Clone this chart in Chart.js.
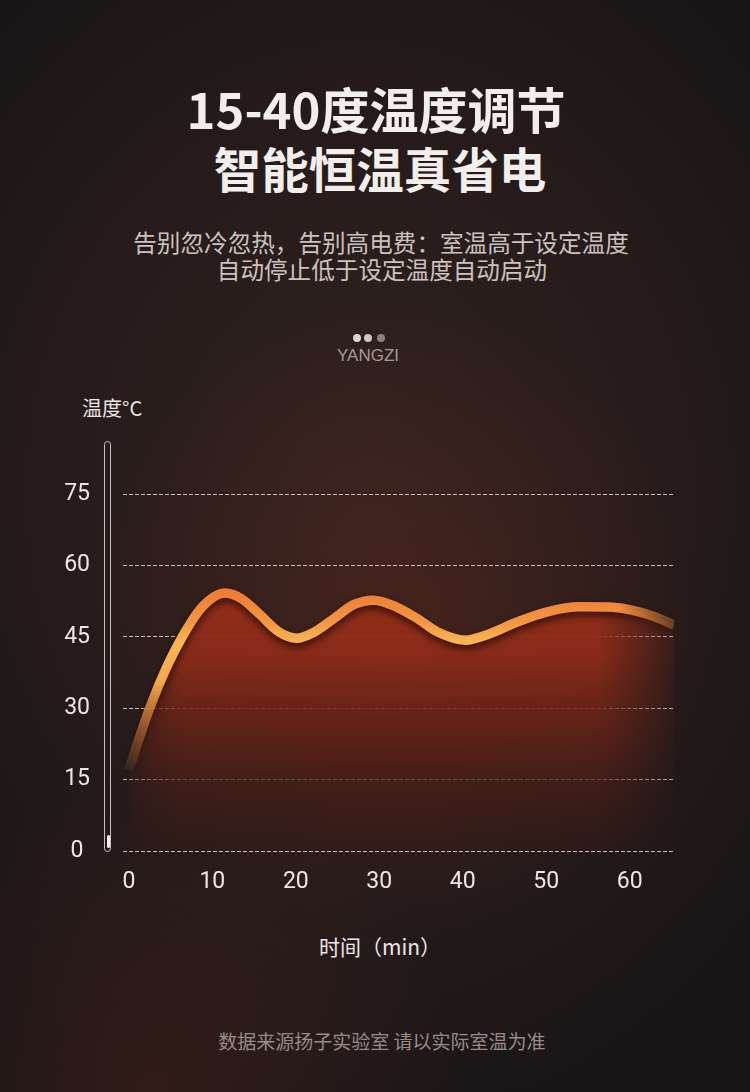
<!DOCTYPE html>
<html>
<head>
<meta charset="utf-8">
<script src="https://cdn.jsdelivr.net/npm/chart.js@4/dist/chart.umd.min.js"></script>
<style>
  html, body { margin: 0; padding: 0; }
  body {
    width: 750px; height: 1092px; position: relative; overflow: hidden;
    font-family: "Noto Sans CJK SC", "Noto Sans", sans-serif;
    background:
      radial-gradient(circle at 53% 57%, rgba(125,42,26,0.3) 0, rgba(125,42,26,0) 42%),
      radial-gradient(circle at 20% 100%, rgba(90,40,28,0.35) 0, rgba(90,40,28,0) 25%),
      radial-gradient(ellipse 75% 62% at 48% 45%, #302220 0%, #271c1b 50%, #181516 100%);
  }
  .t { position: absolute; left: 0; width: 750px; text-align: center; white-space: nowrap; }
  .title { font-weight: 700; color: #f2eeec; line-height: 60px; }
  .sub { font-size: 23.6px; color: #cbc3bf; line-height: 28px; }
  .dot { position: absolute; width: 8px; height: 8px; border-radius: 50%; top: 334px; }
  #wrap { position: absolute; left: 0; top: 440px; width: 700px; height: 470px; }
  .thermo { position: absolute; left: 104px; top: 441px; width: 5px; height: 409px;
    border: 1.5px solid #c9c1bd; border-radius: 4px; }
  .mercury { position: absolute; left: 106.5px; top: 835px; width: 3.5px; height: 13px;
    background: #f2eeec; border-radius: 2px; }
</style>
</head>
<body>
<div class="t title" style="top:78px;font-size:49px;left:1px">15-40度温度调节</div>
<div class="t title" style="top:138px;left:5px;font-size:47.5px">智能恒温真省电</div>
<div class="t sub" style="top:228px;left:6px">告别忽冷忽热，告别高电费：室温高于设定温度</div>
<div class="t sub" style="top:255px;left:7px">自动停止低于设定温度自动启动</div>
<div class="dot" style="left:353px;background:#dcd4d0"></div>
<div class="dot" style="left:364px;background:#cfc7c3"></div>
<div class="dot" style="left:377px;background:#8c8380"></div>
<div class="t" style="top:345px;left:-7px;font-family:'Liberation Sans',Arial,sans-serif;font-size:17px;color:#a39a97;line-height:22px">YANGZI</div>
<div style="position:absolute;left:82px;top:395px;font-size:20px;color:#ece6e4;line-height:26px">温度°C</div>
<div class="thermo"></div>
<div class="mercury"></div>
<div id="wrap"><canvas id="myChart"></canvas></div>
<div class="t" style="top:932px;left:5px;font-size:21px;color:#ece6e4;line-height:28px">时间（min）</div>
<div class="t" style="top:1028px;left:7px;font-size:19px;color:#978c89;line-height:26px">数据来源扬子实验室 请以实际室温为准</div>

<script>
// time in minutes, temperature in °C
var timeMin = [0, 1.3, 2.6, 4.5, 6.4, 8.8, 11.5, 13.5, 15.5, 18, 20.1, 22, 24.3, 27, 29.3, 32, 34.5, 37, 40.3, 43, 46.5, 50, 54, 58, 61, 63, 65.3];
var tempC = [17, 24, 30.5, 38.5, 45, 51.3, 54.2, 53, 50, 46, 44.7, 45.8, 48.5, 51.8, 52.7, 51.3, 48.9, 46, 44.3, 45.5, 48.1, 50.2, 51.3, 51.2, 50.3, 49.2, 47.5];
var xTicks = [0, 10, 20, 30, 40, 50, 60];
var yTicks = [0, 15, 30, 45, 60, 75];

document.addEventListener('DOMContentLoaded', function () {
    var ctx = document.getElementById('myChart').getContext('2d');

    // paint a vertical gradient, then fade it out horizontally, and use it as a pattern
    function makePattern(chart, vStops, hStops) {
        var area = chart.chartArea;
        var c = document.createElement('canvas');
        c.width = chart.width;
        c.height = chart.height;
        var g = c.getContext('2d');
        var y = chart.scales.y;
        var vg = g.createLinearGradient(0, y.getPixelForValue(vStops.from), 0, y.getPixelForValue(vStops.to));
        vStops.stops.forEach(function (s) { vg.addColorStop(s[0], s[1]); });
        g.fillStyle = vg;
        g.fillRect(0, 0, c.width, c.height);
        var hg = g.createLinearGradient(area.left, 0, area.right, 0);
        hStops.forEach(function (s) { hg.addColorStop(s[0], 'rgba(0,0,0,' + s[1] + ')'); });
        g.globalCompositeOperation = 'destination-in';
        g.fillStyle = hg;
        g.fillRect(0, 0, c.width, c.height);
        return chart.ctx.createPattern(c, 'no-repeat');
    }

    var lineShadow = {
        id: 'lineShadow',
        beforeDatasetDraw: function (chart) {
            var c = chart.ctx;
            c.save();
            c.shadowColor = 'rgba(25,6,0,0.75)';
            c.shadowBlur = 8;
            c.shadowOffsetY = 4;
        },
        afterDatasetDraw: function (chart) {
            chart.ctx.restore();
        }
    };

    var myChart = new Chart(ctx, {
        type: 'line',
        data: {
            datasets: [{
                data: timeMin.map(function (t, i) { return { x: t, y: tempC[i] }; }),
                borderWidth: 9.5,
                pointRadius: 0,
                cubicInterpolationMode: 'monotone',
                borderCapStyle: 'butt',
                fill: 'origin',
                borderColor: function (c) {
                    if (!c.chart.chartArea) return '#f5a548';
                    return makePattern(c.chart, {
                        from: 56, to: 15,
                        stops: [
                            [0, 'rgba(236,118,50,1)'],
                            [0.2, 'rgba(243,152,66,1)'],
                            [0.3, 'rgba(250,182,86,1)'],
                            [0.5, 'rgba(246,166,76,1)'],
                            [0.8, 'rgba(232,136,62,0.4)'],
                            [1, 'rgba(220,120,60,0)']
                        ]
                    }, [[0, 1], [0.9, 1], [1, 0.3]]);
                },
                backgroundColor: function (c) {
                    if (!c.chart.chartArea) return 'rgba(140,45,24,0.8)';
                    return makePattern(c.chart, {
                        from: 55, to: 0,
                        stops: [
                            [0, 'rgba(152,47,25,0.97)'],
                            [0.25, 'rgba(140,44,24,0.95)'],
                            [0.5, 'rgba(106,36,23,0.86)'],
                            [0.75, 'rgba(72,30,24,0.72)'],
                            [1, 'rgba(52,27,24,0.45)']
                        ]
                    }, [[0, 0.2], [0.05, 0.7], [0.11, 1], [0.86, 1], [1, 0.15]]);
                }
            }]
        },
        options: {
            responsive: true,
            maintainAspectRatio: false,
            animation: false,
            layout: { padding: { top: 54, right: 26, left: 0, bottom: 0 } },
            plugins: { legend: { display: false }, tooltip: { enabled: false } },
            scales: {
                x: {
                    type: 'linear',
                    min: -0.7,
                    max: 65.3,
                    afterBuildTicks: function (axis) {
                        axis.ticks = xTicks.map(function (v) { return { value: v }; });
                    },
                    afterFit: function (axis) { axis.height = 59; },
                    grid: { display: false },
                    border: { display: false },
                    ticks: {
                        color: '#ece6e4',
                        padding: 9,
                        maxRotation: 0,
                        autoSkip: false,
                        font: { family: 'Roboto, "Noto Sans", sans-serif', size: 23 }
                    }
                },
                y: {
                    min: 0,
                    max: 75,
                    afterBuildTicks: function (axis) {
                        axis.ticks = yTicks.map(function (v) { return { value: v }; });
                    },
                    afterFit: function (axis) { axis.width = 123; },
                    grid: { color: 'rgba(236,230,228,0.8)', lineWidth: 1, drawTicks: false },
                    border: { display: false, dash: [4, 2] },
                    ticks: {
                        color: '#ece6e4',
                        padding: 33,
                        crossAlign: 'center',
                        font: { family: 'Roboto, "Noto Sans", sans-serif', size: 23 }
                    }
                }
            }
        },
        plugins: [lineShadow]
    });
});
</script>
</body>
</html>
